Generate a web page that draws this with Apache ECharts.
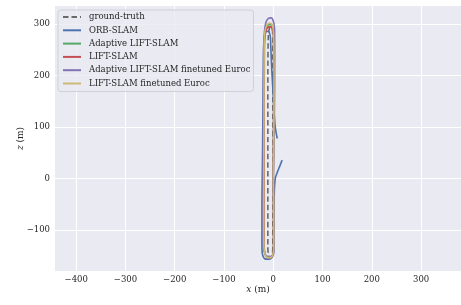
<!DOCTYPE html>
<html>
<head>
<meta charset="utf-8">
<script src="https://cdn.jsdelivr.net/npm/echarts@6/dist/echarts.min.js"></script>
<style>
  html, body { margin: 0; padding: 0; background: #fff; }
  #main { width: 461px; height: 305px; }
</style>
</head>
<body>
<div id="main"></div>
<script>
// trajectories, x (m) and z (m)
const gtX = [0, -1, -1, -2, -4, -8, -10, -11, -11, -11, -11, -10, -8, -5, -2, -1, -1, 0];
const gtZ = [0, -80, -135, -146, -152, -152, -147, -132, -40, 80, 200, 278, 291, 295, 290, 272, 150, 0];

const orbX = [18, 13, 8, 4, 2, 1.5, 1, -2, -8, -15, -21, -23, -23, -22, -21, -20, -19, -17, -13, -9, -6, -5, -3, 0, 2, 4, 8];
const orbZ = [36, 24, 12, 0, -30, -100, -140, -152, -156, -156, -150, -135, -60, 30, 130, 230, 268, 280, 286, 285, 276, 255, 210, 160, 125, 100, 78];

const adaX = [0, 0.5, 0.5, -1, -5, -11, -16, -19, -19.5, -19, -18.5, -17, -13, -7, -2, 0.5, 1, 0.5, 0];
const adaZ = [0, -80, -136, -147, -152, -152, -147, -132, -40, 100, 250, 283, 295, 299, 295, 280, 200, 80, 0];

const liftX = [0, 0.5, 0.5, -1, -5, -11, -16, -18.5, -19, -18.5, -18, -16.5, -13, -7, -2, 0.5, 1, 0.5, 0];
const liftZ = [0, -80, -136, -148, -153, -153, -148, -132, -40, 100, 250, 280, 291, 295, 291, 276, 200, 80, 0];

const adaFtX = [0, 1.5, 1.5, 0, -4, -11, -17, -20, -20.5, -20, -19.5, -18, -15, -10, -4, 0, 2.5, 3, 2, 0];
const adaFtZ = [0, -80, -136, -147, -151, -151, -146, -130, -40, 100, 250, 285, 303, 311, 312, 306, 292, 240, 100, 0];

const liftFtX = [0, 1, 1, -1, -5, -11, -16, -19, -19.5, -19, -18.5, -17, -13, -7, -2, 0.5, 1.5, 1, 0];
const liftFtZ = [0, -80, -136, -148, -153, -153, -148, -132, -40, 100, 250, 285, 298, 302, 298, 282, 200, 80, 0];

const names = ['ground-truth', 'ORB-SLAM', 'Adaptive LIFT-SLAM', 'LIFT-SLAM',
  'Adaptive LIFT-SLAM finetuned Euroc', 'LIFT-SLAM finetuned Euroc'];
const colors = ['#6a6a6a', '#4C72B0', '#55A868', '#C44E52', '#8172B2', '#CCB974'];
const xTicks = [-400, -300, -200, -100, 0, 100, 200, 300];
const yTicks = [-100, 0, 100, 200, 300];

const zip = (xs, zs) => xs.map((x, i) => [x, zs[i]]);
const tracks = [zip(gtX, gtZ), zip(orbX, orbZ), zip(adaX, adaZ), zip(liftX, liftZ),
  zip(adaFtX, adaFtZ), zip(liftFtX, liftFtZ)];

const font = 'DejaVu Serif';
const minus = v => String(v).replace('-', '\u2212');
const nameStyle = {
  fontFamily: font, fontSize: 9, color: '#262626',
  rich: { i: { fontFamily: font, fontStyle: 'italic', fontSize: 9, color: '#262626' } }
};

let chart = echarts.init(document.getElementById('main'));
chart.setOption({
  animation: false,
  backgroundColor: '#fff',
  grid: {
    left: 55, right: 0, top: 6, bottom: 34,
    show: true, backgroundColor: '#EAEAF2', borderWidth: 0
  },
  legend: {
    orient: 'vertical',
    left: 58, top: 10,
    padding: [2, 3, 3, 4],
    backgroundColor: 'rgba(234,234,242,0.8)',
    borderColor: '#d0d0d8', borderWidth: 1, borderRadius: 3,
    itemWidth: 18, itemHeight: 10, itemGap: 3.3,
    itemStyle: { opacity: 0 },
    lineStyle: { width: 2 },
    textStyle: { fontFamily: font, fontSize: 8.5, color: '#262626', lineHeight: 10, padding: [0, 0, 0, 3] },
    data: names
  },
  xAxis: {
    type: 'value', min: -443, max: 381,
    name: '{i|x} (m)', nameLocation: 'middle', nameGap: 14, nameMoveOverlap: false,
    nameTextStyle: nameStyle,
    axisLine: { show: false },
    axisTick: { show: false, customValues: xTicks },
    axisLabel: { customValues: xTicks, formatter: minus, fontFamily: font, fontSize: 8.5, color: '#262626', margin: 4 },
    splitLine: { show: true, lineStyle: { color: '#ffffff', width: 1 } }
  },
  yAxis: {
    type: 'value', min: -179, max: 335,
    name: '{i|z} (m)', nameLocation: 'middle', nameGap: 30, nameRotate: 90, nameMoveOverlap: false,
    nameTextStyle: nameStyle,
    axisLine: { show: false },
    axisTick: { show: false, customValues: yTicks },
    axisLabel: { customValues: yTicks, formatter: minus, fontFamily: font, fontSize: 8.5, color: '#262626', margin: 5 },
    splitLine: { show: true, lineStyle: { color: '#ffffff', width: 1 } }
  },
  series: names.map((n, i) => ({
    name: n,
    type: 'line',
    data: tracks[i],
    symbol: 'none',
    smooth: 0.3,
    lineStyle: { color: colors[i], width: 1.6, type: i === 0 ? [5.5, 3] : 'solid' },
    itemStyle: { color: colors[i] }
  }))
});
</script>
</body>
</html>
